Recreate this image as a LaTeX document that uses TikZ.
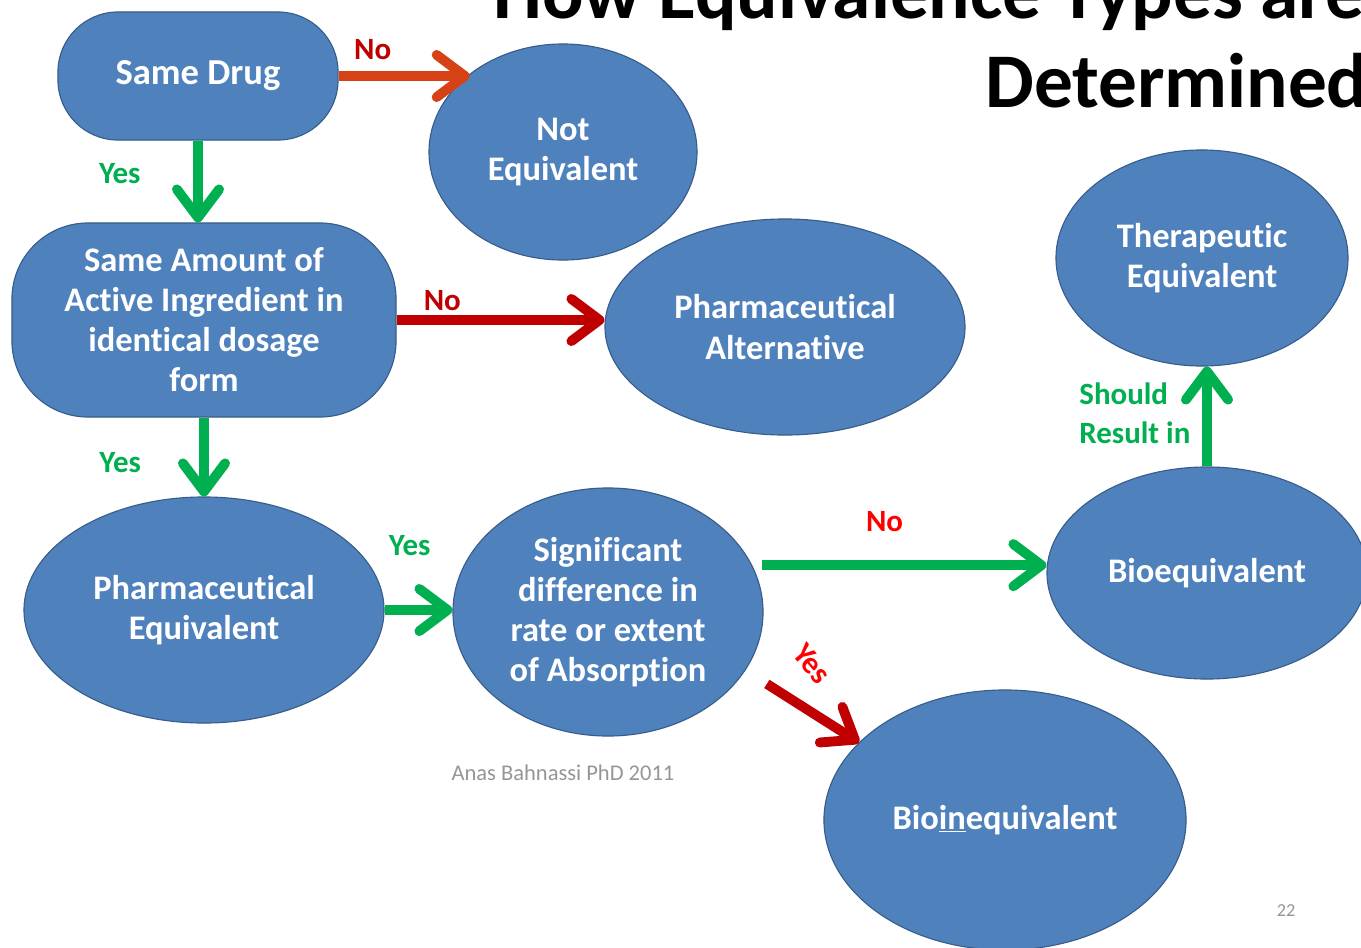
\documentclass[tikz,border=0pt]{standalone}
\usepackage{fontspec}
\setmainfont{Carlito}[Ligatures=NoCommon]
\usepackage{xcolor}
\usepackage{tikz}
\usetikzlibrary{shapes.geometric,arrows.meta}

\definecolor{nodeblue}{RGB}{79,129,189}
\definecolor{edgeblue}{RGB}{56,93,138}
\definecolor{yesgreen}{RGB}{0,176,80}
\definecolor{nored}{RGB}{192,0,0}
\definecolor{noorange}{RGB}{214,66,22}
\definecolor{brightred}{RGB}{255,0,0}
\definecolor{footgray}{RGB}{150,150,150}

\begin{document}
\begin{tikzpicture}[
  x=0.025cm, y=-0.025cm,
  oval/.style={ellipse, draw=edgeblue, line width=0.8pt, fill=nodeblue, text=white, inner sep=0pt, align=center, font=\bfseries\fontsize{24.5}{28.5}\selectfont},
  pill/.style={oval, rectangle},
  arrow/.style={-{Straight Barb[length=20pt,width=30pt,round]}, line width=7pt},
  yesarrow/.style={arrow, draw=yesgreen},
  noarrow/.style={arrow, draw=nored},
  answer/.style={font=\bfseries\fontsize{22}{28}\selectfont}
]

\useasboundingbox (0,0) rectangle (1361,947);
\clip (0,0) rectangle (1361,947);
\fill[white] (0,0) rectangle (1361,947);

% Title, cut by the page edge
\node[font=\bfseries\fontsize{55}{60}\selectfont, anchor=base west, inner sep=0pt] (title1) at (493,18) {How Equivalence Types are};
\node[font=\bfseries\fontsize{55}{60}\selectfont, anchor=base west, inner sep=0pt] (title2) at (985,107) {Determined};

% Same Drug box
\node[pill, minimum width=7cm, minimum height=3.2cm, rounded corners=1.5cm, font=\bfseries\fontsize{26}{30}\selectfont] (drug) at (198,76) {Same Drug};

% Not Equivalent
\node[oval, minimum width=6.7cm, minimum height=5.4cm] (noteq) at (563,152) {Not\\Equivalent};

% Same Amount box
\node[pill, minimum width=9.6cm, minimum height=4.85cm, rounded corners=1.9cm] (amount) at (204,320) {Same Amount of\\Active Ingredient in\\identical dosage\\form};

% Pharmaceutical Alternative
\node[oval, minimum width=9cm, minimum height=5.4cm] (alt) at (785,327) {Pharmaceutical\\Alternative};

% Therapeutic Equivalent
\node[oval, minimum width=7.3cm, minimum height=5.4cm] (ther) at (1202,258) {Therapeutic\\Equivalent};

% Pharmaceutical Equivalent
\node[oval, minimum width=9cm, minimum height=5.65cm] (pheq) at (204,610) {Pharmaceutical\\Equivalent};

% Significant difference
\node[oval, minimum width=7.75cm, minimum height=6.2cm] (sig) at (608,612) {Significant\\difference in\\rate or extent\\of Absorption};

% Bioequivalent
\node[oval, minimum width=8cm, minimum height=5.3cm] (bioeq) at (1207,573) {Bioequivalent};

% Bioinequivalent
\node[oval, minimum width=9.05cm, minimum height=6.5cm] (bioineq) at (1005,820) {Bio\underline{in}equivalent};

% Arrows with their answers
\draw[arrow, draw=noorange] (drug.east) -- node[answer, text=nored, pos=0.26, above=5pt] (no1) {No} (drug.east -| noteq.140);
\draw[yesarrow] (drug.south) -- node[answer, text=yesgreen, pos=0.4, left=34pt] (yes1) {Yes} (drug.south |- amount.north);
\draw[noarrow] (amount.east) -- node[answer, text=nored, pos=0.22, above] (no2) {No} (amount.east -| alt.west);
\draw[yesarrow] (amount.south) -- node[answer, text=yesgreen, pos=0.57, left=38pt] (yes2) {Yes} (amount.south |- pheq.north);
\draw[yesarrow] (pheq.east) -- node[answer, text=yesgreen, pos=0.37, above=32pt] (yes3) {Yes} (pheq.east -| sig.west);
\draw[yesarrow, shorten <=7pt] (sig.18) -- node[answer, text=brightred, pos=0.45, above=17pt] (no3) {No} (sig.18 -| bioeq.west);
\draw[noarrow, shorten <=18pt] (sig.-23) -- (bioineq.152);
\node[answer, text=brightred, rotate=-50] (yes4) at (812,664) {Yes};
\draw[yesarrow] (bioeq.north) -- node[answer, text=yesgreen, pos=0.53, left=5pt, align=left] (should) {Should\\Result in} (bioeq.north |- ther.south);

% Footer
\node[text=footgray, font=\fontsize{16}{18}\selectfont] (author) at (563,773) {Anas Bahnassi PhD 2011};
\node[text=footgray, font=\fontsize{13}{16}\selectfont] (page) at (1286,911) {22};

\end{tikzpicture}
\end{document}
